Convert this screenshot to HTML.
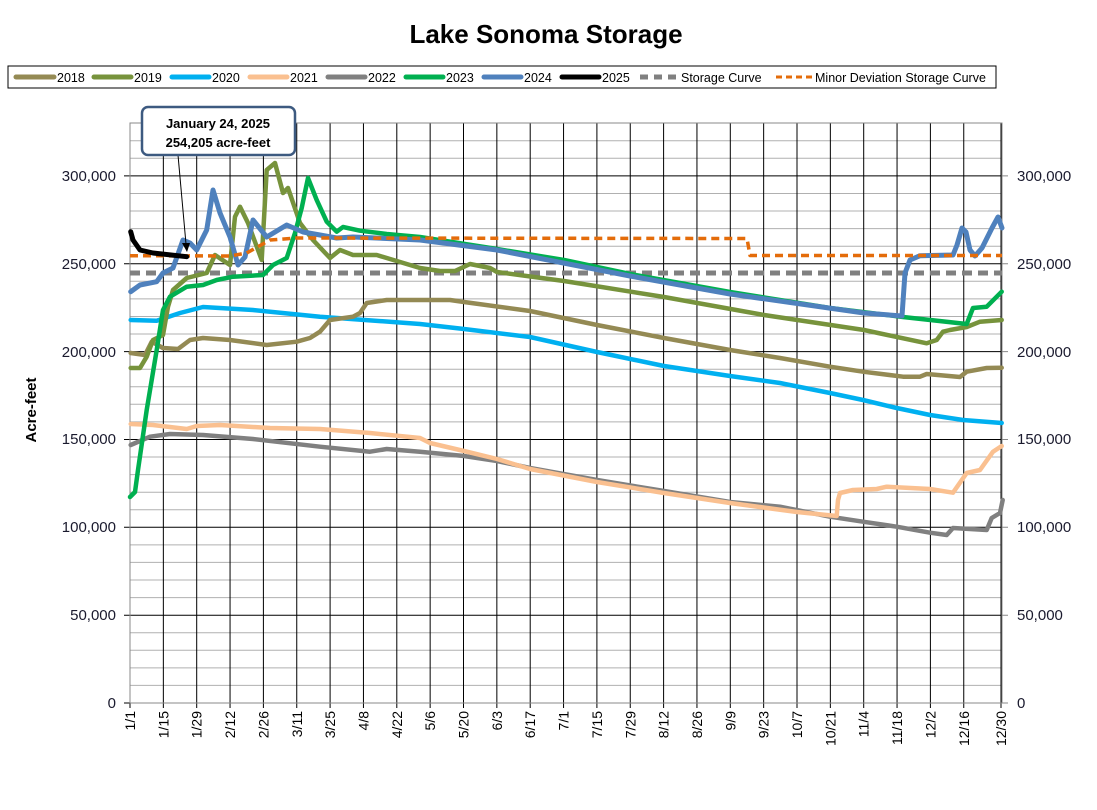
<!DOCTYPE html>
<html><head><meta charset="utf-8"><style>
body{margin:0;background:#fff;width:1097px;height:805px;overflow:hidden;font-family:"Liberation Sans",Arial,sans-serif}
</style></head><body>
<svg width="1097" height="805" viewBox="0 0 1097 805" xmlns="http://www.w3.org/2000/svg" font-family="Liberation Sans, Arial, sans-serif">
<text x="546" y="43" font-size="26" font-weight="bold" text-anchor="middle">Lake Sonoma Storage</text>
<rect x="8" y="66" width="988" height="22" fill="#fff" stroke="#000" stroke-width="1"/>
<g stroke-width="5" stroke-linecap="round" font-size="12.5">
<line x1="16" y1="77" x2="54" y2="77" stroke="#948a54"/><text x="57" y="82" stroke="none">2018</text>
<line x1="94" y1="77" x2="131" y2="77" stroke="#77933c"/><text x="134" y="82" stroke="none">2019</text>
<line x1="172" y1="77" x2="209" y2="77" stroke="#00b0f0"/><text x="212" y="82" stroke="none">2020</text>
<line x1="250" y1="77" x2="287" y2="77" stroke="#fac090"/><text x="290" y="82" stroke="none">2021</text>
<line x1="328" y1="77" x2="365" y2="77" stroke="#808080"/><text x="368" y="82" stroke="none">2022</text>
<line x1="406" y1="77" x2="443" y2="77" stroke="#00b050"/><text x="446" y="82" stroke="none">2023</text>
<line x1="484" y1="77" x2="521" y2="77" stroke="#4f81bd"/><text x="524" y="82" stroke="none">2024</text>
<line x1="562" y1="77" x2="599" y2="77" stroke="#000"/><text x="602" y="82" stroke="none">2025</text>
<line x1="640" y1="77" x2="678" y2="77" stroke="#808080" stroke-dasharray="8 6" stroke-linecap="butt"/><text x="681" y="82" stroke="none">Storage Curve</text>
<line x1="776" y1="77" x2="812" y2="77" stroke="#e46c0a" stroke-width="3" stroke-dasharray="6 4" stroke-linecap="butt"/><text x="815" y="82" stroke="none">Minor Deviation Storage Curve</text>
</g>
<path stroke="#b0b0b0" stroke-width="1" fill="none" d="M130 685.4H1002M130 667.9H1002M130 650.3H1002M130 632.7H1002M130 597.6H1002M130 580H1002M130 562.4H1002M130 544.9H1002M130 509.7H1002M130 492.2H1002M130 474.6H1002M130 457H1002M130 421.9H1002M130 404.3H1002M130 386.7H1002M130 369.2H1002M130 334H1002M130 316.5H1002M130 298.9H1002M130 281.3H1002M130 246.2H1002M130 228.6H1002M130 211H1002M130 193.5H1002M130 158.3H1002M130 140.8H1002"/>
<path stroke="#000" stroke-width="1" fill="none" d="M124 703H1002M124 615.2H1002M124 527.3H1002M124 439.5H1002M124 351.6H1002M124 263.8H1002M124 175.9H1002
M130 123V708M163.35 123V708M196.7 123V708M230.05 123V708M263.4 123V708M296.75 123V708M330.1 123V708M363.45 123V708M396.8 123V708M430.15 123V708M463.5 123V708M496.85 123V708M530.2 123V708M563.55 123V708M596.9 123V708M630.25 123V708M663.6 123V708M696.95 123V708M730.3 123V708M763.65 123V708M797 123V708M830.35 123V708M863.7 123V708M897.05 123V708M930.4 123V708M963.75 123V708M1001 123V708"/>
<path stroke="#888" stroke-width="1" fill="none" d="M1002 703H1008M1002 615.2H1008M1002 527.3H1008M1002 439.5H1008M1002 351.6H1008M1002 263.8H1008M1002 175.9H1008"/>
<rect x="130" y="123" width="872" height="580" fill="none" stroke="#888" stroke-width="1"/>
<g font-size="15" fill="#1a1a2e" text-anchor="end">
<text x="116" y="708">0</text><text x="116" y="620">50,000</text><text x="116" y="532">100,000</text><text x="116" y="444">150,000</text><text x="116" y="357">200,000</text><text x="116" y="269">250,000</text><text x="116" y="181">300,000</text>
</g>
<g font-size="15" fill="#1a1a2e">
<text x="1017" y="708">0</text><text x="1017" y="620">50,000</text><text x="1017" y="532">100,000</text><text x="1017" y="444">150,000</text><text x="1017" y="357">200,000</text><text x="1017" y="269">250,000</text><text x="1017" y="181">300,000</text>
</g>
<g font-size="14" text-anchor="end">
<text transform="translate(135,711) rotate(-90)">1/1</text>
<text transform="translate(168.35,711) rotate(-90)">1/15</text>
<text transform="translate(201.7,711) rotate(-90)">1/29</text>
<text transform="translate(235.05,711) rotate(-90)">2/12</text>
<text transform="translate(268.4,711) rotate(-90)">2/26</text>
<text transform="translate(301.75,711) rotate(-90)">3/11</text>
<text transform="translate(335.1,711) rotate(-90)">3/25</text>
<text transform="translate(368.45,711) rotate(-90)">4/8</text>
<text transform="translate(401.8,711) rotate(-90)">4/22</text>
<text transform="translate(435.15,711) rotate(-90)">5/6</text>
<text transform="translate(468.5,711) rotate(-90)">5/20</text>
<text transform="translate(501.85,711) rotate(-90)">6/3</text>
<text transform="translate(535.2,711) rotate(-90)">6/17</text>
<text transform="translate(568.55,711) rotate(-90)">7/1</text>
<text transform="translate(601.9,711) rotate(-90)">7/15</text>
<text transform="translate(635.25,711) rotate(-90)">7/29</text>
<text transform="translate(668.6,711) rotate(-90)">8/12</text>
<text transform="translate(701.95,711) rotate(-90)">8/26</text>
<text transform="translate(735.3,711) rotate(-90)">9/9</text>
<text transform="translate(768.65,711) rotate(-90)">9/23</text>
<text transform="translate(802,711) rotate(-90)">10/7</text>
<text transform="translate(835.35,711) rotate(-90)">10/21</text>
<text transform="translate(868.7,711) rotate(-90)">11/4</text>
<text transform="translate(902.05,711) rotate(-90)">11/18</text>
<text transform="translate(935.4,711) rotate(-90)">12/2</text>
<text transform="translate(968.75,711) rotate(-90)">12/16</text>
<text transform="translate(1006,711) rotate(-90)">12/30</text>
</g>
<text transform="translate(36,410) rotate(-90)" font-size="15" font-weight="bold" text-anchor="middle">Acre-feet</text>
<g fill="none" stroke-linejoin="round" stroke-linecap="round">
<polyline stroke="#808080" stroke-width="5" stroke-dasharray="10 6" stroke-linecap="butt" points="130,273 1002,273"/>
<polyline stroke="#808080" stroke-width="4.5" points="130.7,445 150,436.7 170,434 203,435 253,439 320,446.7 370,451.7 386.7,449 420,451.7 464,456 497,461 530,468 597,480 664,491 730,502 780,506.7 830,516.7 863,521.7 896.7,526.7 930,532.7 946.7,535 953,528 986.7,530 991.7,518 1000,513 1002.7,500"/>
<polyline stroke="#fac090" stroke-width="4.5" points="130.7,424 153,425 186.7,429 196.7,426 220,425 270,428 320,429 370,433 420,438 430,443 464,451 497,459 530,469 597,482 664,493 730,503 797,512 836.7,516 838,500 840,493 853,490 876.7,489 886.7,486.7 930,489 953,492.7 966.7,473 980,470 993,451.7 1001.7,446"/>
<polyline stroke="#00b0f0" stroke-width="4.5" points="130.7,320 156.7,320.7 180,313 203,307 253,310 320,316.7 420,324 464,329 530,337 597,352 664,366 730,376 780,383 830,393 863,400 896.7,408 930,415 963,420 1001.7,423"/>
<polyline stroke="#948a54" stroke-width="4.5" points="130.7,353 145,355 151.7,341.7 163,348 178,349 190,340 203,338 230,340 266.7,345 296.7,341.7 310,338 320,331.7 330,320 353,316.7 360,313 366.7,303 386.7,300 420,300 450,300 464,302 530,311 597,325 664,338 730,350 780,358 830,366.7 863,371.7 903,376.7 920,376.7 926.7,374 960,377 966.7,371.7 986.7,368 1001.7,367.7"/>
<polyline stroke="#77933c" stroke-width="4.5" points="130.7,368 140,368 146.7,356.7 153,340 163,335 168,306.7 173,290 186.7,278 206.7,273 215,255 230,265 235,216.7 240,206.7 248,223 261.7,260 266.7,170 275,163 283,193 288,188 300,223 313,240 330,258 340,250 353,255 376.7,255 420,268 440,271 455,271 470,264 490,268 497,272 564,281 664,297 764,315 864,330 926.7,343.3 936.7,340 943,331.7 950,330 966.7,327 980,321.7 1001.7,320"/>
<polyline stroke="#00b050" stroke-width="4.5" points="130,497 135,492 138,470 146.7,410 156.7,350 163,310 170,296.7 186.7,286.7 203,285 216.7,280 233,276.7 263,275 273,265 286.7,258 295,233 301.7,208 308,178 316.7,200 326.7,221.7 336.7,231.7 343,227 360,230.7 386.7,234 420,237 497,249 564,260 630,274 730,292 830,308 903,317 966.7,324 973,308 986.7,306.7 1001.7,291.7"/>
<polyline stroke="#4f81bd" stroke-width="5" points="130.7,291.7 140,285 156.7,281.7 163,273 173,268 183,240 190,243 196.7,250 206.7,230 213,190 220,213 230,237 238,265 245,257 253,220 266.7,237 286.7,225 303,232 320,235 336.7,238 353,237 420,240 497,250 630,276 730,294 864,313 902,316 905,273 910,260 920,255.7 953,255 957,245 962,228 966,232 970,250 975,256 982,248 992,228 998,217 1002,228"/>
<polyline stroke="#e46c0a" stroke-width="3.5" stroke-dasharray="8 5" stroke-linecap="butt" points="130,255.7 230,256 246.7,253 270,240 296.7,238 747,238.5 750,255.5 1002,255.5"/>
<polyline stroke="#000" stroke-width="5" points="130.7,231.7 133,240 140,250 153,253 186.7,256.7"/>
</g>
<line x1="178" y1="155" x2="186" y2="244" stroke="#000" stroke-width="1"/>
<polygon points="182,243 190,243 187,252" fill="#000"/>
<rect x="142" y="107" width="153" height="48" rx="6" fill="#fff" stroke="#3d5a80" stroke-width="2.5"/>
<text x="218" y="128" font-size="13" font-weight="bold" text-anchor="middle">January 24, 2025</text>
<text x="218" y="147" font-size="13" font-weight="bold" text-anchor="middle">254,205 acre-feet</text>
</svg>
</body></html>
